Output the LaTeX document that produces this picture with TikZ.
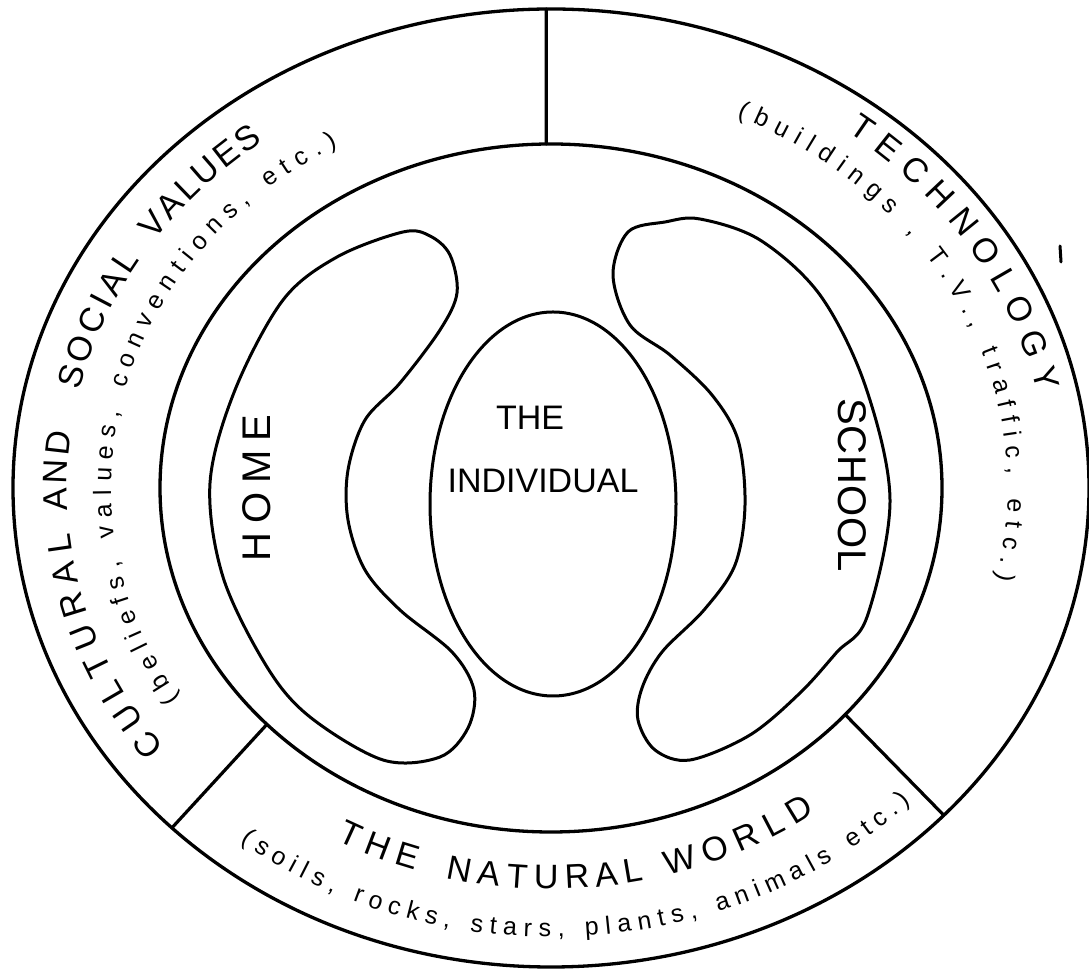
\documentclass[tikz,border=0pt]{standalone}
\usepackage{fontspec}
\newfontfamily\handfont{Liberation Sans}
\usetikzlibrary{decorations.text}
\newcommand\capfont{\handfont\fontsize{34}{38}\selectfont}
\newcommand\smallfont{\handfont\fontsize{25}{28}\selectfont}
\newcommand\bigfont{\handfont\fontsize{40}{44}\selectfont}
\newcommand\arclabel[6]{%
  \path[decorate, decoration={text along path, text={|#1|#2}, text align={fit to path}}]
    (#3:#5 and #6) arc[start angle=#3, end angle=#4, x radius=#5, y radius=#6];}
\begin{document}
\begin{tikzpicture}[x=1pt, y=1pt, line join=round, line cap=round,
  ring/.style={line width=3.3pt},
  blob/.style={line width=3pt},
  divider/.style={line width=3.2pt},
  word/.style={inner sep=0pt}]
\useasboundingbox (0,0) rectangle (1089,979);
\fill[white] (0,0) rectangle (1089,979);
\begin{scope}[shift={(551,491)}]
  \draw[ring] (0,0) ellipse [x radius=538, y radius=479];
  \draw[ring] (0,0) ellipse [x radius=391, y radius=344];
  \coordinate (topO) at (90.5:538 and 479);
  \coordinate (topI) at (90.7:391 and 344);
  \coordinate (llO) at (225.2:538 and 479);
  \coordinate (llI) at (223.4:391 and 344);
  \coordinate (lrO) at (316.9:538 and 479);
  \coordinate (lrI) at (318.8:391 and 344);
  \draw[divider] (topO) -- (topI);
  \draw[divider] (llO) -- (llI);
  \draw[divider] (lrO) -- (lrI);
  % left band
  \arclabel{\capfont}{CULTURAL}{217}{186}{484}{431}
  \arclabel{\capfont}{AND}{183}{172.5}{484}{431}
  \arclabel{\capfont}{SOCIAL}{167}{148}{484}{431}
  \arclabel{\capfont}{VALUES}{145}{126.5}{484}{431}
  \arclabel{\smallfont}{(beliefs, values, conventions, etc.)}{212.5}{119}{440}{391}
  % right band
  \arclabel{\capfont}{TECHNOLOGY}{53.5}{12.5}{498}{443}
  \arclabel{\smallfont}{(buildings , T.V., traffic, etc.)}{66}{-13}{457}{407}
  % bottom band
  \arclabel{\capfont}{THE}{241.5}{252.5}{450}{401}
  \arclabel{\capfont}{NATURAL}{256.5}{282}{450}{401}
  \arclabel{\capfont}{WORLD}{285}{306}{450}{401}
  \arclabel{\smallfont}{(soils, rocks, stars, plants, animals etc.)}{232}{315.5}{504}{449}
\end{scope}
\begin{scope}[yshift=979pt, yscale=-1]
  \draw[blob] plot[smooth cycle, tension=0.55] coordinates {
    (403,232) (337,257) (283,300) (235,390) (210,483) (223,577) (267,667)
    (310,717) (383,760) (440,757) (468,728) (474,690) (452,652) (400,610)
    (365,570) (348,520) (348,470) (365,420) (400,383) (440,330) (457,293)
    (450,255) (430,236)};
  \draw[blob] plot[smooth cycle, tension=0.55] coordinates {
    (665,222) (700,219) (760,240) (820,295) (865,385) (890,500) (867,617)
    (837,652) (800,693) (750,735) (690,760) (655,750) (638,720) (642,688)
    (662,652) (704,610) (735,565) (745,505) (738,440) (712,395) (670,355)
    (630,325) (613,275) (628,232)};
  \draw[blob] (553,504) ellipse [x radius=123, y radius=192];
  \draw[line width=3pt] (1060,246) -- (1061,262);
\end{scope}
\node[word, rotate=90, font=\bigfont] (home) at (257,491) {H\kern9pt O\kern9pt M\kern9pt E};
\node[word, rotate=-90, font=\bigfont] (school) at (852,494) {S\kern1pt C\kern1pt H\kern1pt O\kern1pt O\kern1pt L};
\node[word, font=\capfont] (the) at (530,561) {THE};
\node[word, font=\capfont] (indiv) at (543,498) {INDIVIDUAL};
\end{tikzpicture}
\end{document}
